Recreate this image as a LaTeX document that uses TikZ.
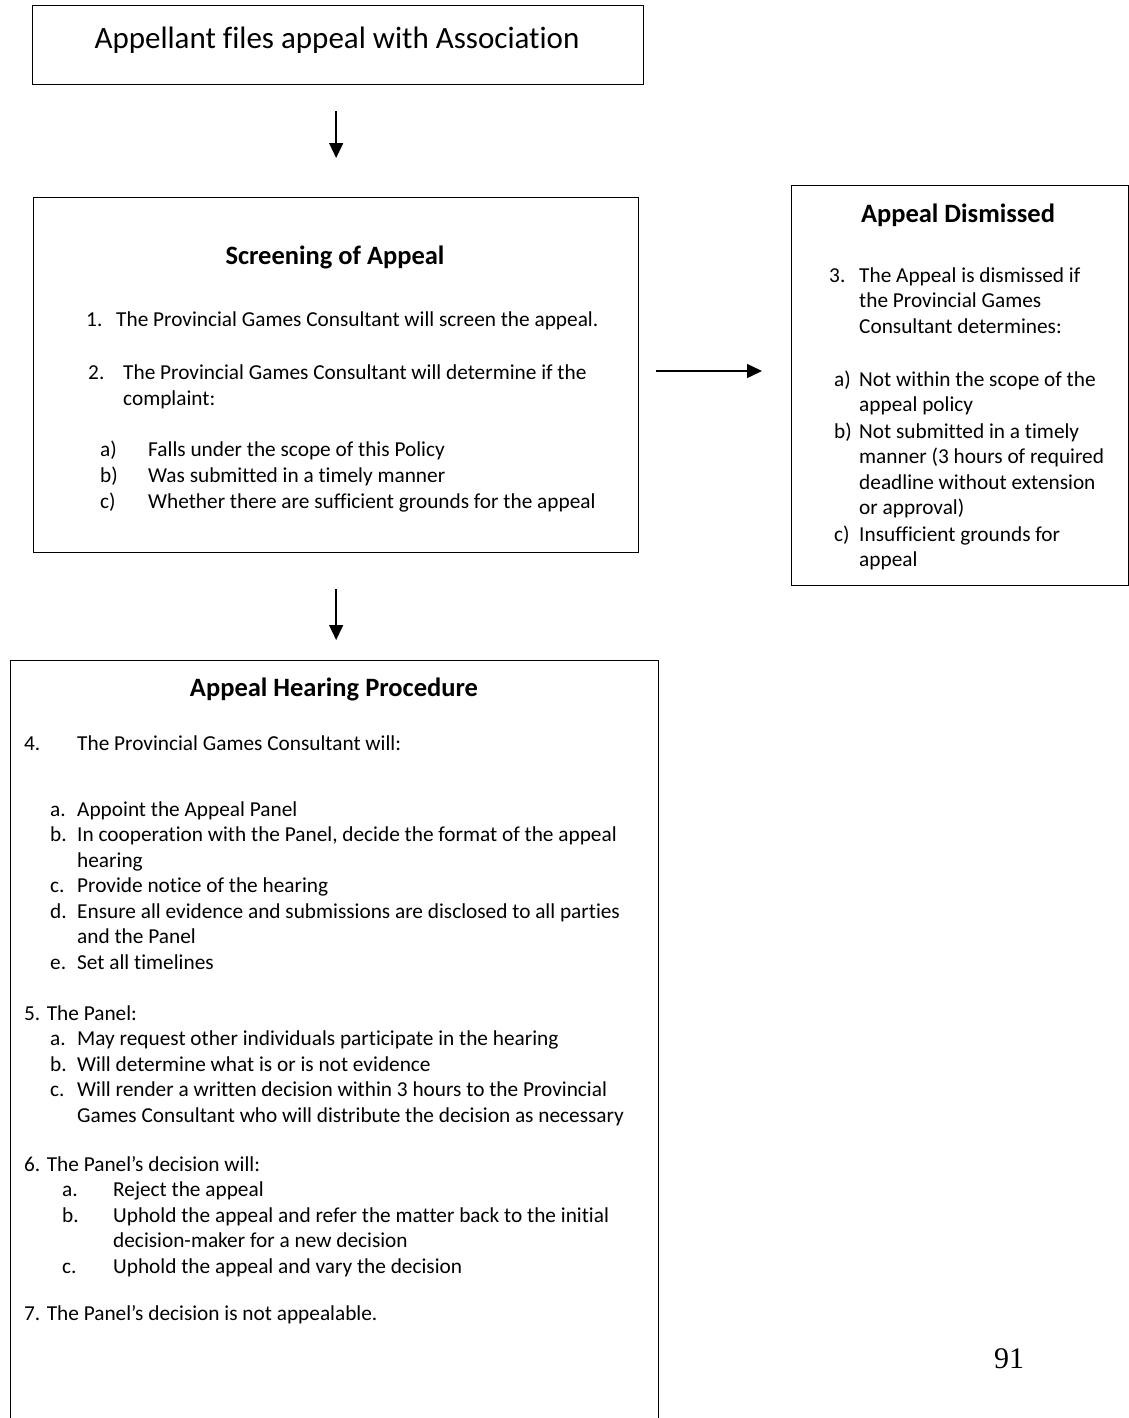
\documentclass[tikz,border=0pt]{standalone}
\usepackage{fontspec}
\setmainfont{Carlito}[Ligatures={NoCommon}]
\newfontfamily\pagefont{Liberation Serif}
\usetikzlibrary{arrows.meta}
\begin{document}
\begin{tikzpicture}[x=1pt,y=-1pt,
  box/.style={draw=black, line width=1.3pt, inner sep=0pt, anchor=north west},
  arr/.style={draw=black, line width=1.4pt, -{Triangle[length=15pt,width=14pt]}},
  txt/.style={font=\fontsize{21.3}{25}\selectfont, anchor=mid west, inner sep=0pt},
  ttl/.style={font=\fontsize{26.5}{31}\selectfont\bfseries, anchor=mid, inner sep=0pt},
  big/.style={font=\fontsize{31}{37}\selectfont, anchor=mid, inner sep=0pt},
]
\useasboundingbox (0,0) rectangle (1129,1418);
\fill[white] (0,0) rectangle (1129,1418);
\clip (0,0) rectangle (1129,1418);

% boxes
\node[box, minimum width=611pt, minimum height=79pt] (top) at (32,5) {};
\node[box, minimum width=605pt, minimum height=355pt] (screen) at (33,197) {};
\node[box, minimum width=337pt, minimum height=400pt] (dism) at (791,185) {};
\node[box, minimum width=648pt, minimum height=820pt] (hear) at (10,660) {};

% top box text
\node[big] (toptxt) at (337,46) {Appellant files appeal with Association};

% connectors
\coordinate (hy) at (0,371);
\draw[arr, shorten <=26pt, shorten >=39pt] (screen.north |- top.south) -- (screen.north);
\draw[arr, shorten <=17pt, shorten >=29pt] (screen.east |- hy) -- (dism.west |- hy);
\draw[arr, shorten <=36pt, shorten >=20pt] (screen.south) -- (screen.south |- hear.north);

% screening box
\node[ttl] (sT) at (335,262) {Screening of Appeal};
\node[txt] (s1n) at (86,324) {1.};
\node[txt] (s1) at (116,324) {The Provincial Games Consultant will screen the appeal.};
\node[txt] (s2n) at (88,377) {2.};
\node[txt] (s2) at (123,377) {The Provincial Games Consultant will determine if the};
\node[txt] (s2b) at (123,403) {complaint:};
\node[txt] (san) at (100,454) {a)};
\node[txt] (sa) at (148,454) {Falls under the scope of this Policy};
\node[txt] (sbn) at (100,480) {b)};
\node[txt] (sb) at (148,480) {Was submitted in a timely manner};
\node[txt] (scn) at (100,506) {c)};
\node[txt] (sc) at (148,506) {Whether there are sufficient grounds for the appeal};

% dismissed box
\node[ttl] (dT) at (958,220) {Appeal Dismissed};
\node[txt] (d3n) at (829,280) {3.};
\node[txt] (d3a) at (859,280) {The Appeal is dismissed if};
\node[txt] (d3b) at (859,305) {the Provincial Games};
\node[txt] (d3c) at (859,331) {Consultant determines:};
\node[txt] (dan) at (834,384) {a)};
\node[txt] (da1) at (859,384) {Not within the scope of the};
\node[txt] (da2) at (859,409) {appeal policy};
\node[txt] (dbn) at (834,436) {b)};
\node[txt] (db1) at (859,436) {Not submitted in a timely};
\node[txt] (db2) at (859,461) {manner (3 hours of required};
\node[txt] (db3) at (859,487) {deadline without extension};
\node[txt] (db4) at (859,512) {or approval)};
\node[txt] (dcn) at (834,539) {c)};
\node[txt] (dc1) at (859,539) {Insufficient grounds for};
\node[txt] (dc2) at (859,564) {appeal};

% hearing box
\node[ttl] (hT) at (334,694) {Appeal Hearing Procedure};
\node[txt] (h4n) at (24,748) {4.};
\node[txt] (h4) at (77,748) {The Provincial Games Consultant will:};
\node[txt] (h4an) at (50,814) {a.};
\node[txt] (h4a) at (77,814) {Appoint the Appeal Panel};
\node[txt] (h4bn) at (50,839.5) {b.};
\node[txt] (h4b1) at (77,839.5) {In cooperation with the Panel, decide the format of the appeal};
\node[txt] (h4b2) at (77,865) {hearing};
\node[txt] (h4cn) at (50,890.5) {c.};
\node[txt] (h4c) at (77,890.5) {Provide notice of the hearing};
\node[txt] (h4dn) at (50,916) {d.};
\node[txt] (h4d1) at (77,916) {Ensure all evidence and submissions are disclosed to all parties};
\node[txt] (h4d2) at (77,941.5) {and the Panel};
\node[txt] (h4en) at (50,967) {e.};
\node[txt] (h4e) at (77,967) {Set all timelines};

\node[txt] (h5) at (24,1018) {5. The Panel:};
\node[txt] (h5an) at (50,1043.5) {a.};
\node[txt] (h5a) at (77,1043.5) {May request other individuals participate in the hearing};
\node[txt] (h5bn) at (50,1069) {b.};
\node[txt] (h5b) at (77,1069) {Will determine what is or is not evidence};
\node[txt] (h5cn) at (50,1094.5) {c.};
\node[txt] (h5c1) at (77,1094.5) {Will render a written decision within 3 hours to the Provincial};
\node[txt] (h5c2) at (77,1120) {Games Consultant who will distribute the decision as necessary};

\node[txt] (h6) at (24,1169) {6. The Panel’s decision will:};
\node[txt] (h6an) at (62,1194.5) {a.};
\node[txt] (h6a) at (113,1194.5) {Reject the appeal};
\node[txt] (h6bn) at (62,1220) {b.};
\node[txt] (h6b1) at (113,1220) {Uphold the appeal and refer the matter back to the initial};
\node[txt] (h6b2) at (113,1245.5) {decision-maker for a new decision};
\node[txt] (h6cn) at (62,1271) {c.};
\node[txt] (h6c) at (113,1271) {Uphold the appeal and vary the decision};

\node[txt] (h7) at (24,1318) {7. The Panel’s decision is not appealable.};

% page number
\node[font=\pagefont\fontsize{30}{36}\selectfont, anchor=mid west, inner sep=0pt] (pg) at (994,1366) {91};
\end{tikzpicture}
\end{document}
